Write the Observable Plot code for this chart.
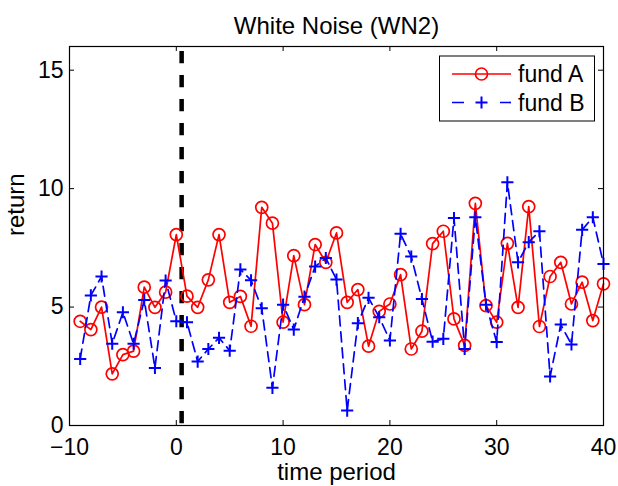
<!DOCTYPE html>
<html>
<head>
<meta charset="utf-8">
<script src="https://cdn.jsdelivr.net/npm/d3@7"></script>
<script src="https://cdn.jsdelivr.net/npm/@observablehq/plot@0.6"></script>
<style>
  html, body { margin: 0; padding: 0; background: #fff; }
  #chart { position: relative; width: 618px; height: 486px; }
  svg { font-family: "Liberation Sans", Arial, Helvetica, sans-serif; }
</style>
</head>
<body>
<div id="chart"></div>
<script>
const title = "White Noise (WN2)";
const xLabel = "time period";
const yLabel = "return";
const seriesNames = ["fund A", "fund B"];

const periods = [-9,-8,-7,-6,-5,-4,-3,-2,-1,0,1,2,3,4,5,6,7,8,9,10,11,12,13,14,15,16,17,18,19,20,21,22,23,24,25,26,27,28,29,30,31,32,33,34,35,36,37,38,39,40];

const fundA = [4.40,4.05,5.00,2.18,2.99,3.14,5.84,4.99,5.63,8.06,5.46,4.99,6.15,8.06,5.20,5.45,4.19,9.21,8.54,4.36,7.17,5.10,7.64,6.89,8.13,5.20,5.74,3.35,4.82,5.13,6.37,3.23,3.98,7.68,8.20,4.50,3.38,9.38,5.06,4.36,7.69,4.99,9.24,4.18,6.29,6.89,5.13,6.05,4.43,5.98];

const fundB = [2.81,5.49,6.29,3.45,4.78,3.45,5.30,2.43,6.12,4.40,4.36,2.70,3.23,3.70,3.16,6.59,6.13,4.95,1.59,5.10,4.05,5.44,6.71,7.07,6.16,0.63,4.32,5.39,4.57,3.59,8.09,7.13,5.34,3.54,3.66,8.76,3.23,8.79,5.10,3.52,10.27,6.89,7.74,8.20,2.07,4.26,3.42,8.26,8.79,6.82];

const eventPeriod = [0.5];
const xTicks = [-10, 0, 10, 20, 30, 40];
const yTicks = [0, 5, 10, 15];

const dataA = periods.map((t, i) => ({t, v: fundA[i]}));
const dataB = periods.map((t, i) => ({t, v: fundB[i]}));

const W = 618, H = 486;
const mL = 69, mR = 15, mT = 46, mB = 61;
const plotW = W - mL - mR, plotH = H - mT - mB;
const tickLen = 5;
const fmt = d => d < 0 ? "\u2212" + Math.abs(d) : String(d);

const plot = Plot.plot({
  width: W,
  height: H,
  marginLeft: mL,
  marginRight: mR,
  marginTop: mT,
  marginBottom: mB,
  style: {fontFamily: '"Liberation Sans", Arial, Helvetica, sans-serif', background: "white", color: "black"},
  x: {domain: [-10, 40], axis: null},
  y: {domain: [0, 16], axis: null},
  marks: [
    Plot.ruleX(eventPeriod, {x: d => d, stroke: "black", strokeWidth: 4.5, strokeDasharray: "12.3,11.7", strokeDashoffset: 19}),
    Plot.line(dataA, {x: "t", y: "v", stroke: "#ff0000", strokeWidth: 1.7}),
    Plot.dot(dataA, {x: "t", y: "v", r: 6, stroke: "#ff0000", strokeWidth: 1.7, fill: "none"}),
    Plot.line(dataB, {x: "t", y: "v", stroke: "#0000ff", strokeWidth: 1.7, strokeDasharray: "10,6"}),
    Plot.dot(dataB, {x: "t", y: "v", r: 4, symbol: "plus", stroke: "#0000ff", strokeWidth: 2}),
    Plot.frame({stroke: "black", strokeWidth: 1.2}),
    Plot.tickX(xTicks, {x: d => d, stroke: "black", strokeWidth: 1, insetTop: plotH - tickLen}),
    Plot.tickX(xTicks, {x: d => d, stroke: "black", strokeWidth: 1, insetBottom: plotH - tickLen}),
    Plot.tickY(yTicks, {y: d => d, stroke: "black", strokeWidth: 1, insetRight: plotW - tickLen}),
    Plot.tickY(yTicks, {y: d => d, stroke: "black", strokeWidth: 1, insetLeft: plotW - tickLen}),
    Plot.text(xTicks, {x: d => d, text: d => fmt(d), frameAnchor: "bottom", lineAnchor: "middle", dy: 22, fontSize: 23, fill: "black"}),
    Plot.text(yTicks, {y: d => d, text: d => fmt(d), frameAnchor: "left", lineAnchor: "middle", dx: -6, textAnchor: "end", fontSize: 23, fill: "black"}),
    Plot.text([title], {text: d => d, frameAnchor: "top", lineAnchor: "middle", dy: -20.5, fontSize: 24, fill: "black"}),
    Plot.text([xLabel], {text: d => d, frameAnchor: "bottom", lineAnchor: "middle", dy: 47, fontSize: 24, fill: "black"}),
    Plot.text([yLabel], {text: d => d, frameAnchor: "left", lineAnchor: "middle", dx: -53.5, rotate: -90, fontSize: 24, fill: "black"})
  ]
});

document.getElementById("chart").appendChild(plot);

// Legend (MATLAB-style box, upper right)
const svg = d3.select(plot);
const lg = svg.append("g")
  .attr("font-family", '"Liberation Sans", Arial, Helvetica, sans-serif')
  .attr("text-anchor", "start");
lg.append("rect").attr("x", 439.5).attr("y", 56).attr("width", 155).attr("height", 65)
  .attr("fill", "white").attr("stroke", "black").attr("stroke-width", 1);
const rows = [
  {name: seriesNames[0], y: 74, color: "#ff0000", dash: null, sym: "circle"},
  {name: seriesNames[1], y: 102.5, color: "#0000ff", dash: "12,36", sym: "plus"}
];
rows.forEach(r => {
  const ln = lg.append("line").attr("x1", 452).attr("x2", 511).attr("y1", r.y).attr("y2", r.y)
    .attr("stroke", r.color).attr("stroke-width", 1.7);
  if (r.dash) ln.attr("stroke-dasharray", r.dash);
  if (r.sym === "circle") {
    lg.append("circle").attr("cx", 481.5).attr("cy", r.y).attr("r", 6)
      .attr("fill", "none").attr("stroke", r.color).attr("stroke-width", 1.7);
  } else {
    lg.append("path").attr("d", `M${475.5},${r.y}H${487.5}M${481.5},${r.y - 6}V${r.y + 6}`)
      .attr("stroke", r.color).attr("stroke-width", 2).attr("fill", "none");
  }
  lg.append("text").attr("x", 518).attr("y", r.y).attr("dy", "0.35em")
    .attr("font-size", 23).attr("fill", "black").text(r.name);
});
</script>
</body>
</html>
